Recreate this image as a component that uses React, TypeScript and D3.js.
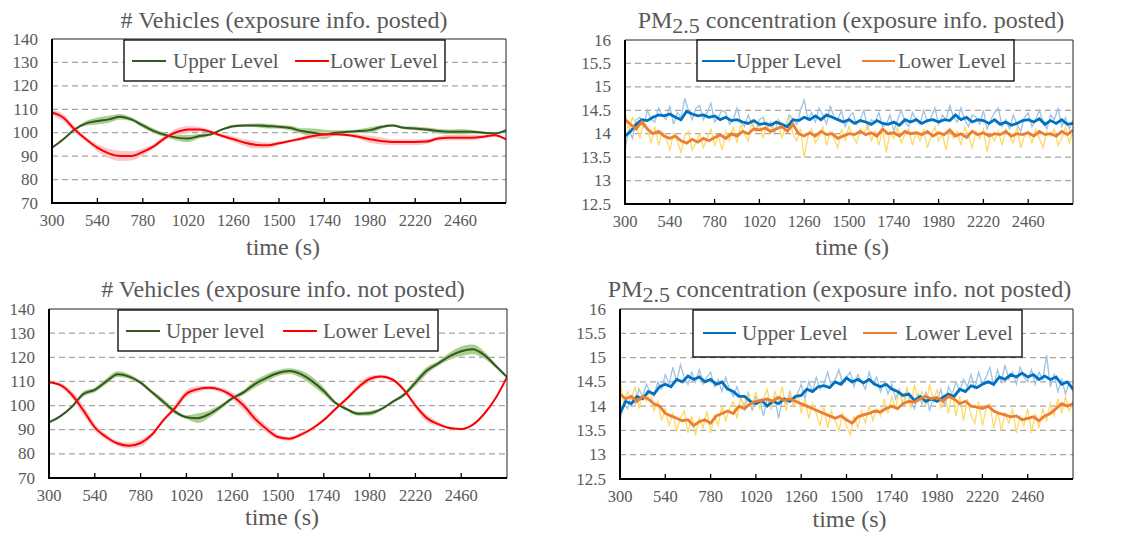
import React from 'react';
import * as d3 from 'd3';

// ---------- categories ----------
const vehTimes = d3.range(300, 2701, 60);
const pmDarkTimes = d3.range(300, 2701, 30);
const pmLightTimes = d3.range(300, 2701, 20);
const xTickLabels = [300, 540, 780, 1020, 1260, 1500, 1740, 1980, 2220, 2460];
const vehYTicks = [70, 80, 90, 100, 110, 120, 130, 140];
const pmYTicks = [12.5, 13, 13.5, 14, 14.5, 15, 15.5, 16];

// ---------- # Vehicles (exposure info. posted) ----------
const vehPostedUpper = [93.6, 97.2, 101.4, 104, 105, 105.7, 106.8, 105.7, 103.1, 100.7, 99, 97.9, 97.5, 98.6, 99.3, 101.4, 102.8, 103.1, 103.1, 102.8, 102.5, 102, 100.7, 100, 99.3, 100, 100.4, 100.7, 101.1, 102.4, 103.1, 102.1, 101.8, 101.4, 100.7, 100.4, 100.4, 100.4, 100, 99.7, 101.1];
const vehPostedUpperBand = [0.3, 0.3, 0.5, 1.0, 1.5, 1.5, 1.2, 0.8, 1.0, 1.0, 0.8, 1.2, 1.5, 1.0, 0.6, 0.5, 0.6, 0.6, 0.8, 1.0, 0.8, 1.0, 1.2, 1.8, 2.0, 1.0, 0.6, 0.8, 1.2, 0.8, 0.5, 0.6, 0.8, 0.8, 1.0, 1.0, 1.2, 0.8, 0.5, 0.4, 0.4];
const vehPostedLower = [108.6, 106.4, 101.4, 97.2, 93.6, 91.2, 90.1, 90.1, 91.8, 94.3, 97.9, 100.3, 101.4, 101.4, 100.3, 98.6, 97.2, 95.7, 94.8, 94.6, 95.5, 96.5, 97.5, 98.6, 99.2, 99.3, 99, 98.3, 97.2, 96.5, 96, 96, 96, 96.2, 97.5, 97.9, 97.9, 97.9, 98.3, 98.9, 97.2];
const vehPostedLowerBand = [1.2, 1.5, 1.2, 1.0, 1.5, 2.0, 2.2, 2.0, 1.5, 1.0, 1.0, 1.5, 1.5, 1.0, 0.6, 0.8, 1.2, 1.5, 1.5, 1.2, 0.8, 0.6, 0.8, 1.2, 1.2, 0.6, 0.6, 1.0, 1.5, 1.5, 1.2, 1.2, 1.2, 1.0, 0.8, 1.2, 1.2, 1.2, 0.8, 0.5, 0.4];

// ---------- # Vehicles (exposure info. not posted) ----------
const vehNotUpper = [93, 95.6, 99.5, 104.8, 106.5, 110, 113, 112, 109.5, 105.5, 101.5, 97.5, 95.2, 94.8, 96.5, 99.5, 103, 105.5, 109, 111.5, 113.5, 114.3, 113, 110, 106, 101.2, 98.5, 96.6, 96.8, 98.5, 101.5, 104.5, 109.5, 114.5, 117.5, 120.5, 122.5, 123.3, 121, 116.5, 111.8];
const vehNotUpperBand = [0.3, 0.3, 0.5, 1.0, 1.0, 1.2, 1.2, 1.0, 0.8, 0.8, 1.2, 1.0, 0.8, 2.0, 1.5, 1.0, 0.8, 1.0, 1.5, 1.5, 1.2, 1.2, 1.5, 1.8, 1.5, 0.8, 0.6, 0.8, 1.0, 0.6, 0.6, 0.8, 1.5, 1.5, 1.0, 1.5, 2.0, 2.0, 1.5, 0.8, 0.5];
const vehNotLower = [109.7, 108.5, 104.5, 98, 91, 87, 84.3, 83.4, 84.5, 88, 94, 99, 104.9, 106.8, 107.4, 106.5, 104, 100, 94.5, 90.3, 87, 86.3, 88, 90.5, 94, 98.5, 102.8, 107.5, 111, 112, 110.8, 106.5, 100, 94.8, 92.3, 90.7, 90.3, 92, 96.5, 103, 111.8];
const vehNotLowerBand = [0.5, 0.8, 1.5, 2.0, 1.5, 1.2, 1.0, 1.2, 1.5, 1.0, 0.8, 1.2, 1.5, 1.2, 0.8, 1.0, 1.5, 1.8, 1.8, 1.5, 1.0, 0.8, 0.8, 0.8, 0.6, 0.6, 0.8, 1.2, 1.2, 0.8, 0.6, 0.8, 1.2, 1.5, 1.0, 0.5, 0.4, 0.4, 0.4, 0.4, 0.4];

// ---------- PM2.5 (exposure info. posted) ----------
const pmPostedUpper = [13.95, 14.05, 14.2, 14.3, 14.28, 14.35, 14.4, 14.38, 14.42, 14.35, 14.3, 14.48, 14.42, 14.38, 14.4, 14.35, 14.38, 14.3, 14.35, 14.28, 14.3, 14.25, 14.22, 14.28, 14.2, 14.22, 14.18, 14.25, 14.2, 14.15, 14.3, 14.28, 14.35, 14.3, 14.38, 14.3, 14.4, 14.35, 14.3, 14.25, 14.3, 14.22, 14.28, 14.25, 14.2, 14.28, 14.22, 14.2, 14.25, 14.18, 14.3, 14.25, 14.3, 14.22, 14.28, 14.3, 14.25, 14.3, 14.28, 14.4, 14.3, 14.35, 14.25, 14.3, 14.28, 14.22, 14.3, 14.2, 14.25, 14.18, 14.22, 14.28, 14.3, 14.25, 14.32, 14.2, 14.28, 14.22, 14.3, 14.2, 14.22];
const pmPostedLower = [14.3, 14.2, 14.1, 14.25, 14.1, 14.0, 14.05, 13.95, 13.9, 13.95, 13.85, 13.8, 13.88, 13.82, 13.9, 13.85, 13.92, 13.98, 13.9, 14.0, 13.95, 14.05, 14.0, 14.1, 14.08, 14.12, 14.05, 14.1, 14.15, 14.05, 14.2, 14.0, 13.95, 14.02, 13.95, 14.05, 13.98, 14.0, 13.9, 13.95, 14.0, 13.98, 14.05, 13.98, 14.02, 13.95, 14.1, 14.0, 14.02, 13.95, 14.05, 14.0, 14.02, 13.98, 14.05, 13.95, 14.02, 13.98, 14.08, 13.95, 14.0, 13.92, 14.05, 13.98, 14.02, 13.95, 14.0, 13.98, 14.05, 13.95, 14.0, 13.98, 14.02, 13.95, 14.05, 13.98, 14.0, 13.95, 14.05, 13.98, 14.08];
const pmPostedUpperRaw = [
  13.65, 14.1, 13.9, 14.3, 14.35, 14.15, 14.5, 14.3, 14.25, 14.55,
  14.4, 14.3, 14.6, 14.2, 14.45, 14.35, 14.75, 14.5, 14.3, 14.55,
  14.6, 14.3, 14.45, 14.65, 14.25, 14.35, 14.5, 14.45, 14.2, 14.3,
  14.55, 14.25, 14.15, 14.4, 14.2, 14.05, 14.3, 14.35, 14.1, 14.25,
  14.0, 14.3, 14.2, 14.15, 14.4, 14.3, 14.2, 14.5, 14.72, 14.3,
  14.45, 14.25, 14.55, 14.4, 14.2, 14.6, 14.35, 14.3, 14.5, 14.15,
  14.35, 14.45, 14.2, 14.3, 14.5, 14.1, 14.3, 14.25, 14.45, 14.15,
  14.2, 14.4, 14.05, 14.3, 14.5, 14.25, 14.15, 14.45, 14.3, 14.2,
  14.5, 14.25, 14.35, 14.55, 14.2, 14.4, 14.3, 14.6, 14.35, 14.25,
  14.55, 14.3, 14.15, 14.4, 14.35, 14.2, 14.5, 14.1, 14.3, 14.45,
  14.55, 14.15, 14.3, 14.1, 14.4, 14.2, 14.05, 14.35, 14.45, 14.15,
  14.3, 14.5, 14.25, 14.1, 14.4, 14.3, 14.55, 14.15, 14.35, 14.1,
  14.3];
const pmPostedLowerRaw = [
  14.5, 14.05, 14.35, 14.2, 13.9, 14.3, 14.1, 13.8, 14.15, 13.75,
  14.05, 13.9, 13.65, 14.0, 13.85, 13.6, 13.95, 14.05, 13.65, 13.8,
  14.0, 13.7, 13.9, 14.1, 13.75, 13.95, 13.65, 14.05, 13.85, 14.15,
  13.8, 14.2, 14.0, 13.85, 14.3, 14.05, 14.2, 13.9, 14.25, 14.0,
  14.2, 14.3, 13.9, 14.15, 14.35, 14.0, 13.85, 14.1, 13.5, 13.95,
  14.1, 13.8, 13.95, 14.15, 13.75, 14.05, 13.9, 13.7, 14.1, 13.85,
  14.15, 13.95, 13.8, 14.1, 14.0, 14.2, 13.85, 14.05, 13.75, 14.1,
  13.6, 14.05, 13.9, 14.15, 13.8, 14.0, 14.1, 13.75, 14.05, 13.85,
  14.1, 13.7, 13.95, 14.15, 13.85, 14.0, 13.65, 14.1, 13.9, 14.05,
  13.75, 14.15, 13.95, 13.7, 14.05, 13.9, 14.1, 13.6, 14.0, 13.85,
  14.05, 13.75, 14.1, 13.95, 13.8, 14.15, 13.7, 13.95, 14.05, 13.8,
  14.1, 13.9, 13.7, 14.05, 13.95, 14.1, 13.75, 13.9, 14.15, 13.8,
  14.05];

// ---------- PM2.5 (exposure info. not posted) ----------
const pmNotUpper = [13.85, 14.1, 14.05, 14.2, 14.15, 14.3, 14.25, 14.4, 14.45, 14.4, 14.55, 14.5, 14.62, 14.55, 14.6, 14.5, 14.55, 14.45, 14.5, 14.35, 14.3, 14.2, 14.2, 14.1, 14.05, 14.12, 14.0, 14.1, 14.05, 14.15, 14.1, 14.2, 14.22, 14.35, 14.3, 14.4, 14.42, 14.38, 14.5, 14.45, 14.58, 14.5, 14.55, 14.48, 14.55, 14.45, 14.4, 14.45, 14.35, 14.3, 14.22, 14.25, 14.12, 14.2, 14.1, 14.15, 14.1, 14.18, 14.25, 14.2, 14.35, 14.3, 14.42, 14.38, 14.45, 14.5, 14.45, 14.6, 14.55, 14.65, 14.6, 14.68, 14.6, 14.65, 14.55, 14.62, 14.55, 14.6, 14.45, 14.5, 14.35];
const pmNotLower = [14.25, 14.15, 14.2, 14.1, 14.2, 14.15, 14.05, 14.0, 13.85, 13.8, 13.75, 13.7, 13.72, 13.6, 13.68, 13.72, 13.65, 13.8, 13.85, 13.9, 13.85, 14.0, 13.95, 14.05, 14.1, 14.12, 14.15, 14.1, 14.18, 14.12, 14.15, 14.1, 14.05, 14.0, 13.95, 13.9, 13.85, 13.8, 13.75, 13.8, 13.72, 13.65, 13.78, 13.82, 13.85, 13.9, 13.88, 13.95, 14.0, 13.95, 14.05, 14.1, 14.08, 14.15, 14.2, 14.15, 14.18, 14.1, 14.2, 14.15, 14.05, 14.1, 14.0, 13.98, 13.95, 14.0, 13.9, 13.85, 13.82, 13.78, 13.8, 13.72, 13.75, 13.78, 13.7, 13.8, 13.85, 13.95, 14.05, 14.0, 14.05];
const pmNotUpperRaw = [
  13.7, 14.05, 13.95, 14.2, 14.05, 14.35, 14.2, 14.45, 14.3, 14.2,
  14.5, 14.35, 14.65, 14.45, 14.8, 14.5, 14.85, 14.6, 14.45, 14.7,
  14.5, 14.75, 14.45, 14.6, 14.7, 14.4, 14.55, 14.3, 14.6, 14.35,
  14.2, 14.4, 14.15, 14.0, 14.3, 13.9, 14.2, 14.1, 13.8, 14.15,
  13.95, 14.2, 13.75, 14.15, 14.05, 14.3, 14.0, 14.25, 14.45, 14.15,
  14.5, 14.3, 14.6, 14.35, 14.45, 14.7, 14.4, 14.55, 14.75, 14.45,
  14.6, 14.7, 14.4, 14.65, 14.5, 14.35, 14.7, 14.45, 14.6, 14.3,
  14.5, 14.25, 14.45, 14.15, 14.35, 14.0, 14.3, 14.1, 13.95, 14.25,
  14.05, 14.3, 13.9, 14.2, 14.1, 14.35, 14.0, 14.4, 14.25, 14.5,
  14.3, 14.55, 14.4, 14.65, 14.35, 14.7, 14.45, 14.6, 14.8, 14.4,
  14.75, 14.5, 14.85, 14.55, 14.7, 14.45, 14.8, 14.6, 14.5, 14.75,
  14.45, 14.7, 14.55, 15.05, 14.4, 14.65, 14.3, 14.55, 14.25, 14.5,
  14.3];
const pmNotLowerRaw = [
  14.55, 14.0, 14.3, 14.15, 14.4, 13.95, 14.25, 14.1, 14.35, 13.9,
  14.1, 13.7, 13.95, 13.6, 13.85, 13.5, 13.75, 13.9, 13.45, 13.8,
  13.4, 13.75, 13.55, 13.9, 13.45, 13.8, 13.6, 14.0, 13.7, 13.95,
  14.1, 13.75, 14.2, 13.9, 14.25, 14.0, 14.3, 13.95, 14.15, 14.35,
  13.95, 14.3, 14.1, 14.4, 13.9, 14.25, 14.0, 14.3, 13.85, 14.15,
  13.75, 14.05, 13.85, 13.6, 14.0, 13.55, 13.9, 13.7, 13.5, 13.85,
  13.6, 13.4, 13.8, 13.55, 13.9, 13.65, 14.0, 13.7, 13.95, 13.8,
  14.15, 13.85, 14.2, 13.95, 14.35, 14.0, 14.4, 13.95, 14.45, 14.1,
  14.3, 14.0, 14.45, 14.1, 14.35, 13.95, 14.25, 13.85, 14.3, 13.8,
  14.2, 13.7, 14.15, 13.8, 13.65, 14.1, 13.6, 13.95, 14.05, 13.55,
  13.9, 13.5, 13.85, 13.65, 13.95, 13.45, 13.8, 13.6, 13.95, 13.45,
  13.85, 13.55, 13.95, 13.7, 14.05, 13.8, 14.15, 13.85, 14.2, 13.9,
  14.1];

const FONT = '"Liberation Serif", "Times New Roman", serif';
const TXT = '#595959';

type LegendItem = { label: string; color: string; x1: number; x2: number; tx: number };

function Frame({ box, y, yTicks, id, children, legend, legendBox, legendY }: any) {
  const x = d3.scaleLinear().domain([300, 2700]).range([box.left, box.right]);
  return (
    <g>
      <defs>
        <clipPath id={id}>
          <rect x={box.left} y={box.top} width={box.right - box.left} height={box.bottom - box.top} />
        </clipPath>
      </defs>
      {yTicks.slice(1, -1).map((t: number) => (
        <line key={t} x1={box.left} x2={box.right} y1={y(t)} y2={y(t)} stroke="#a6a6a6" strokeWidth={1.3} strokeDasharray="6,4" />
      ))}
      <g clipPath={`url(#${id})`}>{children}</g>
      <line x1={box.left} x2={box.right} y1={box.top} y2={box.top} stroke="#222" strokeWidth={1} />
      <line x1={box.right} x2={box.right} y1={box.top} y2={box.bottom} stroke="#222" strokeWidth={1} />
      <line x1={box.left} x2={box.left} y1={box.top} y2={box.bottom} stroke="#000" strokeWidth={2} />
      <line x1={box.left - 1} x2={box.right} y1={box.bottom} y2={box.bottom} stroke="#000" strokeWidth={2} />
      {xTickLabels.slice(1).map((t) => (
        <line key={t} x1={x(t)} x2={x(t)} y1={box.bottom} y2={box.bottom - 5} stroke="#000" strokeWidth={1.3} />
      ))}
      {yTicks.map((t: number) => (
        <text key={t} x={box.left - 14} y={y(t)} dy="0.33em" textAnchor="end" fontSize={17} fill={TXT} fontFamily={FONT}>
          {String(t)}
        </text>
      ))}
      {xTickLabels.map((t) => (
        <text key={t} x={x(t)} y={box.bottom + 23} textAnchor="middle" fontSize={16.5} fill={TXT} fontFamily={FONT}>
          {t}
        </text>
      ))}
      <rect x={legendBox[0]} y={legendBox[1]} width={legendBox[2] - legendBox[0]} height={legendBox[3] - legendBox[1]} fill="#fff" stroke="#000" strokeWidth={1.3} />
      {legend.map((l: LegendItem) => (
        <g key={l.label}>
          <line x1={l.x1} x2={l.x2} y1={legendY} y2={legendY} stroke={l.color} strokeWidth={2.2} />
          <text x={l.tx} y={legendY} dy="0.33em" fontSize={21} fill={TXT} fontFamily={FONT}>
            {l.label}
          </text>
        </g>
      ))}
    </g>
  );
}

function VehPanel({ box, upper, upperBand, lower, lowerBand, id, title, titleY, timeY, legend, legendBox, legendY }: any) {
  const x = d3.scaleLinear().domain([300, 2700]).range([box.left, box.right]);
  const y = d3.scaleLinear().domain([70, 140]).range([box.bottom, box.top]);
  const area = (m: number[], b: number[]) =>
    d3.area<number>().x((_, i) => x(vehTimes[i])).y0((v, i) => y(v - b[i])).y1((v, i) => y(v + b[i])).curve(d3.curveMonotoneX)(m) || '';
  const line = (m: number[]) => d3.line<number>().x((_, i) => x(vehTimes[i])).y((v) => y(v)).curve(d3.curveMonotoneX)(m) || '';
  return (
    <g>
      <text x={(box.left + box.right) / 2 + 5} y={titleY} textAnchor="middle" fontSize={24} fill={TXT} fontFamily={FONT}>{title}</text>
      <Frame box={box} y={y} yTicks={vehYTicks} id={id} legend={legend} legendBox={legendBox} legendY={legendY}>
        <path d={area(upper, upperBand)} fill="#a9d18e" />
        <path d={area(lower, lowerBand)} fill="#f7c1c4" opacity={0.9} />
        <path d={line(upper)} fill="none" stroke="#375623" strokeWidth={2} />
        <path d={line(lower)} fill="none" stroke="#ff0000" strokeWidth={2} />
      </Frame>
      <text x={(box.left + box.right) / 2 + 4} y={timeY} textAnchor="middle" fontSize={24} fill={TXT} fontFamily={FONT}>time (s)</text>
    </g>
  );
}

function PmPanel({ box, upper, lower, upperRaw, lowerRaw, id, titleRest, titleY, timeY, legend, legendBox, legendY, titleDx }: any) {
  const x = d3.scaleLinear().domain([300, 2700]).range([box.left, box.right]);
  const y = d3.scaleLinear().domain([12.5, 16]).range([box.bottom, box.top]);
  const line = (vals: number[], times: number[]) => d3.line<number>().x((_, i) => x(times[i])).y((v) => y(v))(vals) || '';
  return (
    <g>
      <text x={(box.left + box.right) / 2 + titleDx} y={titleY} textAnchor="middle" fontSize={24} fill={TXT} fontFamily={FONT}>
        <tspan>PM</tspan>
        <tspan dy={5} fontSize={22}>2.5</tspan>
        <tspan dy={-5}>{titleRest}</tspan>
      </text>
      <Frame box={box} y={y} yTicks={pmYTicks} id={id} legend={legend} legendBox={legendBox} legendY={legendY}>
        <path d={line(upperRaw, pmLightTimes)} fill="none" stroke="#9dc3e6" strokeWidth={1.3} />
        <path d={line(lowerRaw, pmLightTimes)} fill="none" stroke="#ffd966" strokeWidth={1.3} />
        <path d={line(upper, pmDarkTimes)} fill="none" stroke="#0070c0" strokeWidth={2.8} />
        <path d={line(lower, pmDarkTimes)} fill="none" stroke="#ed7d31" strokeWidth={2.8} />
      </Frame>
      <text x={(box.left + box.right) / 2 + 3} y={timeY} textAnchor="middle" fontSize={24} fill={TXT} fontFamily={FONT}>time (s)</text>
    </g>
  );
}

export default function App() {
  return (
    <svg width={1121} height={535} style={{ position: 'absolute', left: 0, top: 0, background: '#fff' }}>
      <VehPanel
        id="c1"
        box={{ left: 52, right: 506, top: 39, bottom: 203 }}
        upper={vehPostedUpper}
        upperBand={vehPostedUpperBand}
        lower={vehPostedLower}
        lowerBand={vehPostedLowerBand}
        title="# Vehicles (exposure info. posted)"
        titleY={28}
        timeY={255}
        legendBox={[124, 40, 445, 81]}
        legendY={61}
        legend={[
          { label: 'Upper Level', color: '#375623', x1: 132, x2: 166, tx: 173 },
          { label: 'Lower Level', color: '#ff0000', x1: 295, x2: 329, tx: 330 },
        ]}
      />
      <PmPanel
        id="c2"
        box={{ left: 625, right: 1073, top: 40, bottom: 204 }}
        upper={pmPostedUpper}
        lower={pmPostedLower}
        upperRaw={pmPostedUpperRaw}
        lowerRaw={pmPostedLowerRaw}
        titleRest=" concentration (exposure info. posted)"
        titleDx={2}
        titleY={28}
        timeY={255}
        legendBox={[697, 40, 1014, 81]}
        legendY={61}
        legend={[
          { label: 'Upper Level', color: '#0070c0', x1: 702, x2: 735, tx: 736 },
          { label: 'Lower Level', color: '#ed7d31', x1: 862, x2: 895, tx: 898 },
        ]}
      />
      <VehPanel
        id="c3"
        box={{ left: 49, right: 507, top: 309, bottom: 478 }}
        upper={vehNotUpper}
        upperBand={vehNotUpperBand}
        lower={vehNotLower}
        lowerBand={vehNotLowerBand}
        title="# Vehicles (exposure info. not posted)"
        titleY={297}
        timeY={525}
        legendBox={[118, 310, 438, 351]}
        legendY={331}
        legend={[
          { label: 'Upper level', color: '#375623', x1: 126, x2: 160, tx: 166 },
          { label: 'Lower Level', color: '#ff0000', x1: 283, x2: 317, tx: 323 },
        ]}
      />
      <PmPanel
        id="c4"
        box={{ left: 620, right: 1073, top: 309, bottom: 479 }}
        upper={pmNotUpper}
        lower={pmNotLower}
        upperRaw={pmNotUpperRaw}
        lowerRaw={pmNotLowerRaw}
        titleRest=" concentration (exposure info. not posted)"
        titleDx={-7}
        titleY={297}
        timeY={527}
        legendBox={[693, 310, 1022, 357]}
        legendY={333}
        legend={[
          { label: 'Upper Level', color: '#0070c0', x1: 703, x2: 736, tx: 742 },
          { label: 'Lower Level', color: '#ed7d31', x1: 863, x2: 897, tx: 905 },
        ]}
      />
    </svg>
  );
}
